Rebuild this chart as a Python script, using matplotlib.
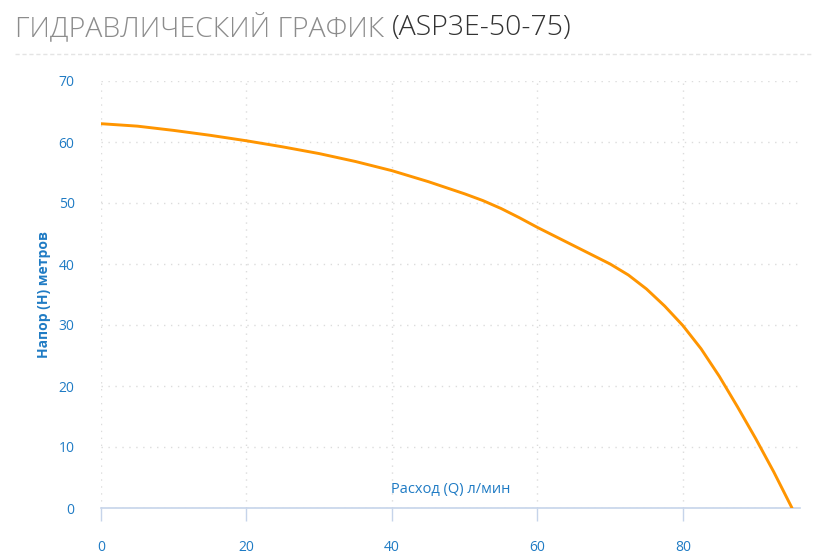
import matplotlib
matplotlib.use("Agg")
import matplotlib.pyplot as plt
from matplotlib.lines import Line2D

plt.rcParams['font.family'] = ['Open Sans', 'DejaVu Sans']

# расход (л/мин) и напор (м)
flow = [0, 5, 10, 15, 20, 25, 30, 35, 40, 45, 50, 52.5, 55, 57.5, 60, 62.5, 65,
        67.5, 70, 72.5, 75, 77.5, 80, 82.5, 85, 87.5, 90, 92.5, 95]
head = [63.0, 62.6, 61.9, 61.1, 60.2, 59.2, 58.1, 56.8, 55.3, 53.5, 51.5, 50.4,
        49.1, 47.6, 46.0, 44.5, 43.0, 41.5, 40.0, 38.2, 35.9, 33.1, 29.9, 26.1,
        21.6, 16.6, 11.4, 5.9, 0.0]
x_ticks = [0, 20, 40, 60, 80]
y_ticks = [0, 10, 20, 30, 40, 50, 60, 70]

blue = '#1f7bc4'
axis_col = '#c6d4ea'
grid_col = '#dcdcdc'

fig = plt.figure(figsize=(8.15, 5.57), dpi=100)
ax = fig.add_axes([101 / 815, 49 / 557, 699 / 815, 427 / 557])

ax.plot(flow, head, color='#ff9500', lw=2.1, solid_capstyle='round',
        solid_joinstyle='round', zorder=3)

ax.set_xlim(0, 96.1)
ax.set_ylim(0, 70)
ax.set_xticks(x_ticks)
ax.set_yticks(y_ticks)

for s in ['top', 'right', 'left']:
    ax.spines[s].set_visible(False)
ax.spines['bottom'].set_color(axis_col)
ax.spines['bottom'].set_linewidth(1.2)

ax.tick_params(axis='x', colors=axis_col, length=9, width=1, pad=14, labelsize=10)
ax.tick_params(axis='y', length=0, pad=19, labelsize=10)
for lab in ax.get_xticklabels() + ax.get_yticklabels():
    lab.set_color(blue)

ax.grid(True, color=grid_col, linestyle=(0, (1, 4)), linewidth=1)
ax.set_axisbelow(True)

ax.text(0.5, 0.025, 'Расход (Q) л/мин', transform=ax.transAxes, ha='center',
        va='bottom', color=blue, fontsize=10.5)
ax.set_ylabel('Напор (H) метров', color=blue, fontsize=10, fontweight='bold')
ax.yaxis.set_label_coords(-0.071, 0.5)

# заголовок
t1 = fig.text(15 / 815, 1 - 28 / 557, 'ГИДРАВЛИЧЕСКИЙ ГРАФИК ', color='#8c8c8c',
              fontsize=20.5, fontweight='light', va='center', ha='left')
fig.canvas.draw()
bb = t1.get_window_extent()
fig.text(bb.x1 / fig.bbox.width, 1 - 28 / 557, '(ASP3E-50-75)', color='#333333',
         fontsize=20.5, fontweight='light', va='center', ha='left')

fig.add_artist(Line2D([15 / 815, 811 / 815], [1 - 54 / 557, 1 - 54 / 557],
                      transform=fig.transFigure, color='#e4e4e4', lw=1,
                      linestyle=(0, (3, 2))))

fig.savefig('out.png', dpi=100)
